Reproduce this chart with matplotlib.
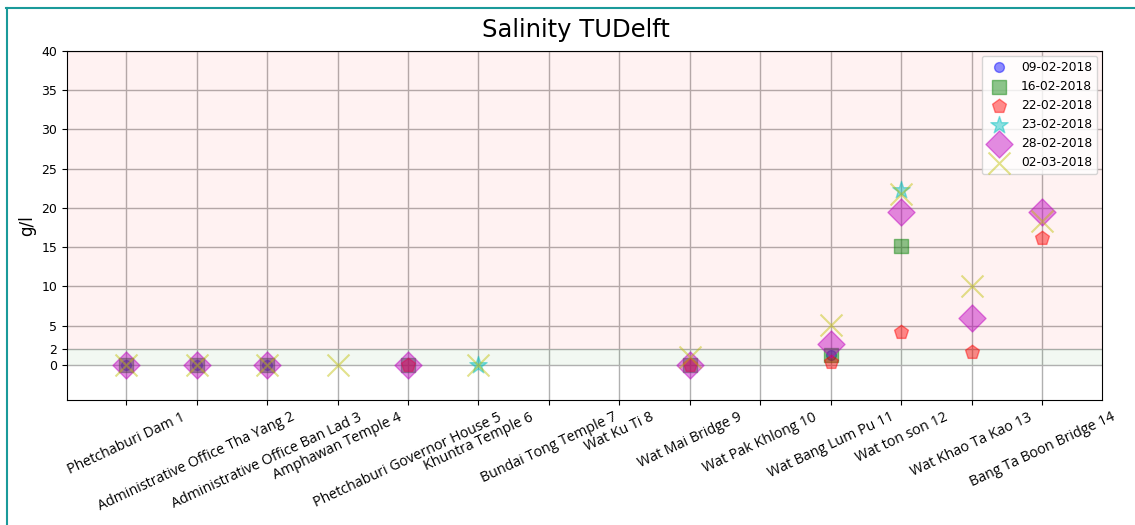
import numpy as np
import matplotlib.pyplot as plt
from matplotlib.lines import Line2D

nan = np.nan

sites = ['Phetchaburi Dam 1', 'Administrative Office Tha Yang 2',
         'Administrative Office Ban Lad 3', 'Amphawan Temple 4',
         'Phetchaburi Governor House 5', 'Khuntra Temple 6',
         'Bundai Tong Temple 7', 'Wat Ku Ti 8', 'Wat Mai Bridge 9',
         'Wat Pak Khlong 10', 'Wat Bang Lum Pu 11', 'Wat ton son 12',
         'Wat Khao Ta Kao 13', 'Bang Ta Boon Bridge 14']

dates = ['09-02-2018', '16-02-2018', '22-02-2018', '23-02-2018',
         '28-02-2018', '02-03-2018']

# salinity g/l per site, NaN = no sample
s_0902 = [0, 0, 0, nan, nan, nan, nan, nan, nan, nan, 1.3, nan, nan, nan]
s_1602 = [0, 0, 0, nan, 0, nan, nan, nan, 0, nan, 1.3, 15.1, nan, nan]
s_2202 = [nan, nan, nan, nan, 0, nan, nan, nan, 0, nan, 0.3, 4.2, 1.6, 16.2]
s_2302 = [nan, nan, nan, nan, nan, 0, nan, nan, nan, nan, nan, 22.3, nan, nan]
s_2802 = [0, 0, 0, nan, 0, nan, nan, nan, 0, nan, 2.6, 19.5, 6.0, 19.5]
s_0203 = [0, 0, 0, 0, nan, 0, nan, nan, 1.0, nan, 5.1, 21.7, 10.0, 18.3]

series = [s_0902, s_1602, s_2202, s_2302, s_2802, s_0203]
markers = ['o', 's', 'p', '*', 'D', 'x']
colors = ['b', 'g', 'r', 'c', 'm', 'y']
sizes = [50, 90, 110, 170, 190, 250]

x = np.arange(1, len(sites) + 1)

fig = plt.figure(figsize=(11.35, 5.25), dpi=100)
ax = fig.add_axes([0.059, 0.238, 0.912, 0.665])

ax.axhspan(2, 40, color='red', alpha=0.05, lw=0)
ax.axhspan(0, 2, color='green', alpha=0.05, lw=0)

for vals, m, c, s, lab in zip(series, markers, colors, sizes, dates):
    ax.scatter(x, vals, marker=m, c=c, s=s, alpha=0.45, label=lab, zorder=3)

ax.set_xlim(0.16, 14.85)
ax.set_ylim(-4.5, 40)
ax.set_yticks([0, 2, 5, 10, 15, 20, 25, 30, 35, 40])
ax.tick_params(axis='y', labelsize=9)
ax.set_xticks(x)
ax.set_xticklabels(sites, rotation=25, ha='center', family='Open Sans', fontsize=10.3)
ax.grid(True, color='#b0b0b0', lw=1)
ax.set_axisbelow(True)
ax.set_ylabel('g/l', fontsize=12)
ax.set_title('Salinity TUDelft', fontsize=17.5, x=0.492, pad=10)
ax.legend(loc='upper right', fontsize=8.8, scatterpoints=1, borderaxespad=0.4)

# frame of the notebook cell
fig.add_artist(Line2D([6/1135, 1], [1-8/525, 1-8/525], color='#1a9a9a', lw=1.5))
fig.add_artist(Line2D([7/1135, 7/1135], [0, 1-8/525], color='#1a9a9a', lw=1.5))

fig.savefig('out.png', dpi=100)
